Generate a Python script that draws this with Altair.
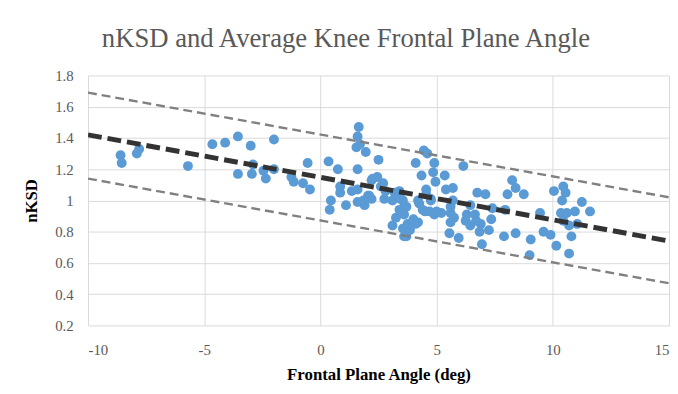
import altair as alt
import pandas as pd

# Scatter data: knee frontal plane angle (deg) and nKSD
angle = [-8.6, -8.55, -7.9, -7.8, -5.7,
         -4.65, -4.1, -3.55, -3.0, -2.0,
         -3.55, -2.95, -2.9, -2.45, -2.35, -2.0,
         -1.25, -1.15, -0.75, -0.55, -0.45,
         0.35, 0.75, 1.6, 1.65, 1.6, 1.7, 1.55, 1.95, 2.5,
         0.85, 0.85, 0.45, 0.4, 1.1, 1.35, 1.6, 1.6, 1.9, 2.1, 2.25, 2.45, 2.6, 2.8, 2.75,
         3.1, 3.3, 3.4, 3.25, 3.1, 3.55, 3.6, 3.6,
         2.2, 2.7, 2.05, 2.2, 1.85, 3.2, 3.4, 3.45, 3.7, 3.75, 3.7, 4.1, 3.85, 4.2, 4.7,
         4.45, 4.6, 4.1, 4.9, 4.35, 4.85, 5.35, 4.95, 5.7, 5.4, 6.15, 4.55, 4.75, 4.25,
         4.4, 4.9, 5.2, 5.7, 5.6, 5.75, 5.6, 5.55, 5.95, 6.45, 6.75, 7.1, 6.25, 6.45,
         6.7, 6.85, 6.95, 7.25, 7.35, 7.4,
         3.55, 4.55, 4.75, 5.6, 4.5, 5.0, 3.6, 4.0, 4.2, 3.85, 6.3, 6.65, 6.9,
         7.95, 8.25, 8.4, 8.05, 8.75, 7.9, 8.4, 9.05, 9.0, 9.45, 9.6, 9.9, 10.15,
         10.05, 10.45, 10.55, 10.4, 10.35, 10.6, 10.45, 10.7, 10.8, 10.7, 10.95,
         11.25, 11.6, 11.05]
nksd = [1.29, 1.24, 1.30, 1.33, 1.22,
        1.36, 1.37, 1.41, 1.35, 1.39,
        1.17, 1.17, 1.23, 1.19, 1.14, 1.20,
        1.15, 1.12, 1.11, 1.24, 1.07,
        1.25, 1.20, 1.20, 1.47, 1.41, 1.36, 1.34, 1.31, 1.26,
        1.09, 1.05, 1.00, 0.94, 0.97, 1.06, 1.07, 0.99, 0.97, 1.03, 1.14, 1.15, 1.09, 1.06, 1.01,
        1.00, 1.02, 0.94, 0.89, 0.84, 0.82, 0.77, 0.96,
        1.13, 1.11, 1.03, 1.01, 1.00, 1.05, 1.06, 1.01, 0.96, 0.85, 0.77, 0.85, 0.81, 1.00, 0.93,
        1.32, 1.30, 1.24, 1.24, 1.16, 1.18, 1.16, 1.12, 1.08, 1.07, 1.22, 1.07, 1.01, 0.98,
        0.94, 0.91, 0.92, 1.00, 0.92, 0.89, 0.86, 0.79, 0.76, 0.97, 1.05, 1.04, 0.87, 0.84,
        0.87, 0.80, 0.72, 0.81, 0.88, 0.95,
        1.00, 1.04, 1.00, 0.96, 0.93, 0.93, 0.91, 0.88, 0.86, 0.83, 0.91, 0.91, 0.85,
        0.94, 1.13, 1.08, 1.04, 1.04, 0.77, 0.79, 0.75, 0.65, 0.92, 0.80, 0.78, 0.71,
        1.06, 1.09, 1.05, 1.00, 0.92, 0.92, 0.87, 0.84, 0.77, 0.66, 0.93,
        0.99, 0.93, 0.85]

# Trend line and prediction bounds (end points)
line_x = [-10, 15]
fit_y = [1.42, 0.74]
upper_y = [1.69, 1.02]
lower_y = [1.14, 0.47]

x_ticks = [-10, -5, 0, 5, 10, 15]
y_ticks = [0.2, 0.4, 0.6, 0.8, 1.0, 1.2, 1.4, 1.6, 1.8]

pts = pd.DataFrame({"angle": angle, "nksd": nksd})
fit = pd.DataFrame({"angle": line_x, "nksd": fit_y})
bounds = pd.DataFrame({
    "angle": line_x + line_x,
    "nksd": upper_y + lower_y,
    "band": ["upper", "upper", "lower", "lower"],
})

FONT = "Liberation Serif"

xscale = alt.Scale(domain=[-10, 15], nice=False)
yscale = alt.Scale(domain=[0.2, 1.8], nice=False)

xaxis = alt.Axis(
    values=x_ticks, title="Frontal Plane Angle (deg)",
    labelExpr="'' + datum.value", labelOverlap=False,
    grid=True, gridColor="#d9d9d9", domain=False, ticks=False,
    labelFont=FONT, labelFontSize=15, labelColor="#595959", labelPadding=17,
    titleFont=FONT, titleFontSize=17, titleFontWeight="bold", titleColor="#000000",
    titlePadding=10,
)
yaxis = alt.Axis(
    values=y_ticks, title="nKSD", format=".1~f", labelOverlap=False,
    grid=True, gridColor="#d9d9d9", domain=False, ticks=False,
    labelFont=FONT, labelFontSize=15, labelColor="#595959", labelPadding=15,
    titleFont=FONT, titleFontSize=17, titleFontWeight="bold", titleColor="#000000",
    titlePadding=14,
)

X = alt.X("angle:Q", scale=xscale, axis=xaxis)
Y = alt.Y("nksd:Q", scale=yscale, axis=yaxis)

points = alt.Chart(pts).mark_circle(size=100, color="#5b9bd5", opacity=1).encode(
    x=X, y=Y,
)

bound_lines = alt.Chart(bounds).mark_line(
    color="#808080", strokeWidth=2.4, strokeDash=[9, 5], clip=True
).encode(
    x=X, y=Y, detail="band:N",
)

fit_line = alt.Chart(fit).mark_line(
    color="#333333", strokeWidth=5, strokeDash=[14, 6], clip=True
).encode(
    x=X, y=Y,
)

chart = alt.layer(points, bound_lines, fit_line).properties(
    width=588,
    height=253,
    title=alt.TitleParams(
        "nKSD and Average Knee Frontal Plane Angle",
        font=FONT, fontSize=27, fontWeight="normal", color="#595959",
        anchor="middle", dx=-33, offset=16,
    ),
    autosize=alt.AutoSizeParams(type="none"),
    padding={"left": 81, "top": 66, "right": 1, "bottom": 57},
    background="white",
).configure_view(stroke=None).configure_title(
    font=FONT, fontSize=27, fontWeight="normal", color="#595959"
).configure_axis(
    labelFont=FONT, titleFont=FONT
)

chart.save("out.html", embed_options={"renderer": "svg", "actions": False})
